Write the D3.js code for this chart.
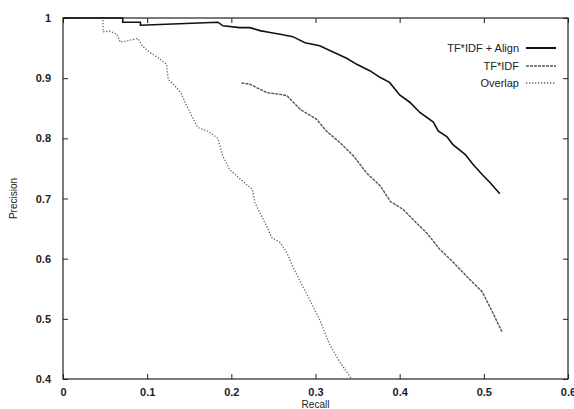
<!DOCTYPE html>
<html>
<head>
<meta charset="utf-8">
<script src="https://cdn.jsdelivr.net/npm/d3@7"></script>
<style>
  body { margin: 0; background: #fff; }
  text { font-family: "Liberation Sans", Arial, sans-serif; fill: #222; }
</style>
</head>
<body>
<div id="chart"></div>
<script>
// global const
const width = 574, height = 409;
const margin = { left: 63, right: 6, top: 18, bottom: 30 };

// data: [recall, precision]
const alignRecall = [0, 0.071, 0.071, 0.092, 0.092, 0.13, 0.184, 0.19, 0.21, 0.222, 0.234, 0.246, 0.258, 0.273, 0.2875, 0.305, 0.317, 0.337, 0.349, 0.365, 0.377, 0.388, 0.40, 0.412, 0.424, 0.440, 0.446, 0.456, 0.463, 0.478, 0.487, 0.498, 0.507, 0.519];
const alignPrec   = [1, 1, 0.993, 0.993, 0.988, 0.99, 0.993, 0.987, 0.984, 0.984, 0.979, 0.976, 0.973, 0.969, 0.959, 0.954, 0.946, 0.933, 0.923, 0.912, 0.901, 0.893, 0.872, 0.86, 0.843, 0.827, 0.812, 0.803, 0.79, 0.773, 0.757, 0.74, 0.727, 0.708];

const tfidfRecall = [0.212, 0.222, 0.242, 0.258, 0.266, 0.282, 0.301, 0.313, 0.329, 0.345, 0.361, 0.377, 0.389, 0.404, 0.418, 0.432, 0.448, 0.463, 0.480, 0.498, 0.510, 0.522];
const tfidfPrec   = [0.892, 0.890, 0.876, 0.873, 0.871, 0.848, 0.832, 0.812, 0.793, 0.771, 0.742, 0.721, 0.695, 0.682, 0.662, 0.643, 0.615, 0.595, 0.570, 0.545, 0.512, 0.477];

const overlapRecall = [0, 0.0475, 0.0475, 0.056, 0.064, 0.068, 0.076, 0.089, 0.094, 0.103, 0.115, 0.123, 0.125, 0.133, 0.14, 0.145, 0.153, 0.160, 0.172, 0.184, 0.190, 0.198, 0.210, 0.225, 0.228, 0.238, 0.244, 0.248, 0.258, 0.266, 0.273, 0.279, 0.293, 0.305, 0.317, 0.329, 0.343];
const overlapPrec   = [1, 1, 0.977, 0.978, 0.973, 0.96, 0.962, 0.966, 0.954, 0.943, 0.932, 0.923, 0.898, 0.887, 0.876, 0.86, 0.837, 0.818, 0.812, 0.800, 0.770, 0.748, 0.733, 0.715, 0.693, 0.665, 0.648, 0.635, 0.627, 0.61, 0.587, 0.570, 0.532, 0.498, 0.457, 0.428, 0.40];

const seriesNames = ["TF*IDF + Align", "TF*IDF", "Overlap"];
const xTicks = [0, 0.1, 0.2, 0.3, 0.4, 0.5, 0.6];
const yTicks = [0.4, 0.5, 0.6, 0.7, 0.8, 0.9, 1];

const styles = [
    { stroke: "#111", width: 1.6, dash: null },
    { stroke: "#555", width: 1.4, dash: "3,1" },
    { stroke: "#666", width: 1.3, dash: "1.3,1.7" }
];

var svg = d3.select("#chart")
    .append("svg")
    .attr("width", width)
    .attr("height", height)
    .style("background-color", "#fff");

var xScale = d3.scaleLinear()
    .domain([0, 0.6])
    .range([margin.left, width - margin.right]);

var yScale = d3.scaleLinear()
    .domain([0.4, 1])
    .range([height - margin.bottom, margin.top]);

// frame
svg.append("rect")
    .attr("x", xScale(0))
    .attr("y", yScale(1))
    .attr("width", xScale(0.6) - xScale(0))
    .attr("height", yScale(0.4) - yScale(1))
    .attr("fill", "none")
    .attr("stroke", "#222")
    .attr("stroke-width", 1.2);

// axes with inward ticks, mirrored
const fmt = d => d === 0 ? "0" : d === 1 ? "1" : d3.format(".1f")(d);

const axBottom = svg.append("g")
    .attr("transform", `translate(0,${yScale(0.4)})`)
    .call(d3.axisBottom(xScale).tickValues(xTicks).tickSizeInner(-5).tickSizeOuter(0).tickPadding(9).tickFormat(fmt));
const axTop = svg.append("g")
    .attr("transform", `translate(0,${yScale(1)})`)
    .call(d3.axisTop(xScale).tickValues(xTicks).tickSizeInner(-5).tickSizeOuter(0).tickFormat(""));
const axLeft = svg.append("g")
    .attr("transform", `translate(${xScale(0)},0)`)
    .call(d3.axisLeft(yScale).tickValues(yTicks).tickSizeInner(-5).tickSizeOuter(0).tickPadding(12).tickFormat(fmt));
const axRight = svg.append("g")
    .attr("transform", `translate(${xScale(0.6)},0)`)
    .call(d3.axisRight(yScale).tickValues(yTicks).tickSizeInner(-5).tickSizeOuter(0).tickFormat(""));

[axBottom, axTop, axLeft, axRight].forEach(g => {
    g.select(".domain").remove();
    g.selectAll("line").attr("stroke", "#222");
    g.selectAll("text").style("font-size", "11px").style("font-weight", "bold").attr("fill", "#333");
});

// axis titles
svg.append("text")
    .attr("x", (xScale(0) + xScale(0.6)) / 2)
    .attr("y", height - 1)
    .attr("text-anchor", "middle")
    .style("font-size", "10px")
    .text("Recall");

svg.append("text")
    .attr("transform", `translate(17,${(yScale(0.4) + yScale(1)) / 2}) rotate(-90)`)
    .attr("text-anchor", "middle")
    .style("font-size", "10px")
    .text("Precision");

// curves
const line = d3.line()
    .x(d => xScale(d[0]))
    .y(d => yScale(d[1]));

const series = [
    d3.zip(alignRecall, alignPrec),
    d3.zip(tfidfRecall, tfidfPrec),
    d3.zip(overlapRecall, overlapPrec)
];

// draw back to front so solid sits on top
[2, 1, 0].forEach(i => {
    svg.append("path")
        .datum(series[i])
        .attr("d", line)
        .attr("fill", "none")
        .attr("stroke", styles[i].stroke)
        .attr("stroke-width", styles[i].width)
        .attr("stroke-dasharray", styles[i].dash);
});

// legend
const legendY = [52, 70, 87];
seriesNames.forEach((name, i) => {
    svg.append("text")
        .attr("x", 519)
        .attr("y", legendY[i])
        .attr("text-anchor", "end")
        .style("font-size", "11px")
        .text(name);
    svg.append("line")
        .attr("x1", 526)
        .attr("x2", 556)
        .attr("y1", legendY[i] - 4)
        .attr("y2", legendY[i] - 4)
        .attr("stroke", styles[i].stroke)
        .attr("stroke-width", i === 0 ? 2 : styles[i].width)
        .attr("stroke-dasharray", styles[i].dash);
});
</script>
</body>
</html>
